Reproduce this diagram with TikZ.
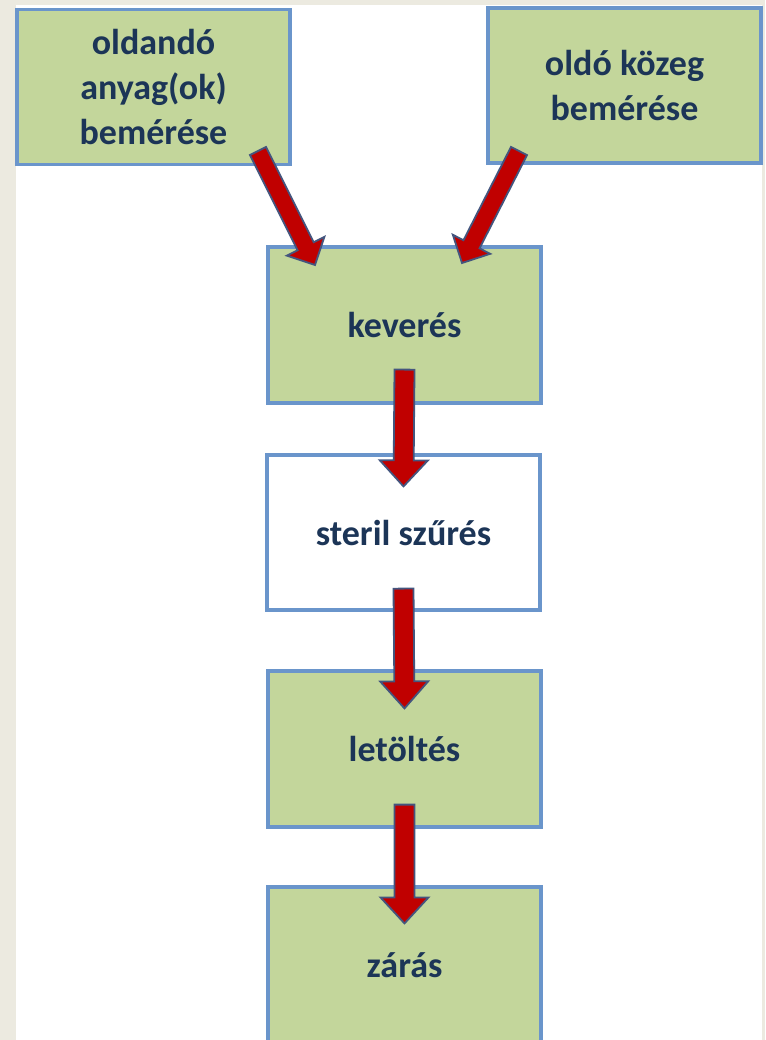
\documentclass[tikz,border=0pt]{standalone}
\usepackage{fontspec}
\setmainfont{Carlito}
\usetikzlibrary{calc}
\definecolor{bgbeige}{HTML}{ECEAE0}
\definecolor{boxgreen}{HTML}{C3D69B}
\definecolor{boxblue}{HTML}{6A95CB}
\definecolor{txtnavy}{HTML}{1C3557}
\definecolor{arrred}{HTML}{C00000}
\definecolor{arrline}{HTML}{44557E}
\tikzset{
  box/.style={draw=boxblue, line width=3.2pt, fill=boxgreen, minimum width=273pt, minimum height=155pt,
    inner sep=0pt, align=center, text=txtnavy, font=\fontsize{36}{45}\selectfont\bfseries},
  whitebox/.style={box, fill=white},
  fatarrow/.style={fill=arrred, draw=arrline, line width=1.8pt, line join=miter}
}
\newcommand{\fatarr}[5]{%
  \coordinate (tmpH) at ($(#2)!#5!(#1)$);
  \draw[fatarrow] ($(#1)!#3!90:(#2)$) -- ($(tmpH)!#3!90:(#2)$) -- ($(tmpH)!#4!90:(#2)$) -- (#2)
    -- ($(tmpH)!#4!-90:(#2)$) -- ($(tmpH)!#3!-90:(#2)$) -- ($(#1)!#3!-90:(#2)$) -- cycle;
}
\begin{document}
\begin{tikzpicture}[x=1pt,y=-1pt]
\useasboundingbox (0,0) rectangle (765,1040);
\fill[bgbeige] (0,0) rectangle (765,1040);
\fill[white] (16,5) rectangle (762,1040);
\begin{scope}
\clip (0,0) rectangle (765,1040);
\node[box] (solute) at (153.5,87) {oldandó\\anyag(ok)\\bemérése};
\node[box] (solvent) at (624.5,85.5) {oldó közeg\\bemérése};
\node[box, minimum height=156pt] (mix) at (404.5,325) {keverés};
\node[whitebox] (filt) at (403.5,532.5) {steril szűrés};
\node[box, minimum height=156pt] (fill) at (404.5,749) {letöltés};
\node[box, minimum height=156pt] (close) at (404.5,965) {zárás};
\end{scope}
\coordinate (t1) at (258,151);
\coordinate (h1) at (315,265);
\coordinate (t2) at (519,151);
\coordinate (h2) at (462,263);
\coordinate (t3) at ([yshift=35pt]mix.south);
\coordinate (h3) at ([yshift=-33pt]filt.north);
\coordinate (t4) at ([yshift=23pt]filt.south);
\coordinate (h4) at ([yshift=-39pt]fill.north);
\coordinate (t5) at ([yshift=24pt]fill.south);
\coordinate (h5) at ([yshift=-38pt]close.north);
\fatarr{t1}{h1}{9pt}{21pt}{21pt}
\fatarr{t2}{h2}{9pt}{21pt}{21pt}
\fatarr{t3}{h3}{10pt}{24pt}{26pt}
\fatarr{t4}{h4}{10pt}{24pt}{27pt}
\fatarr{t5}{h5}{10pt}{24pt}{26pt}
\end{tikzpicture}
\end{document}
